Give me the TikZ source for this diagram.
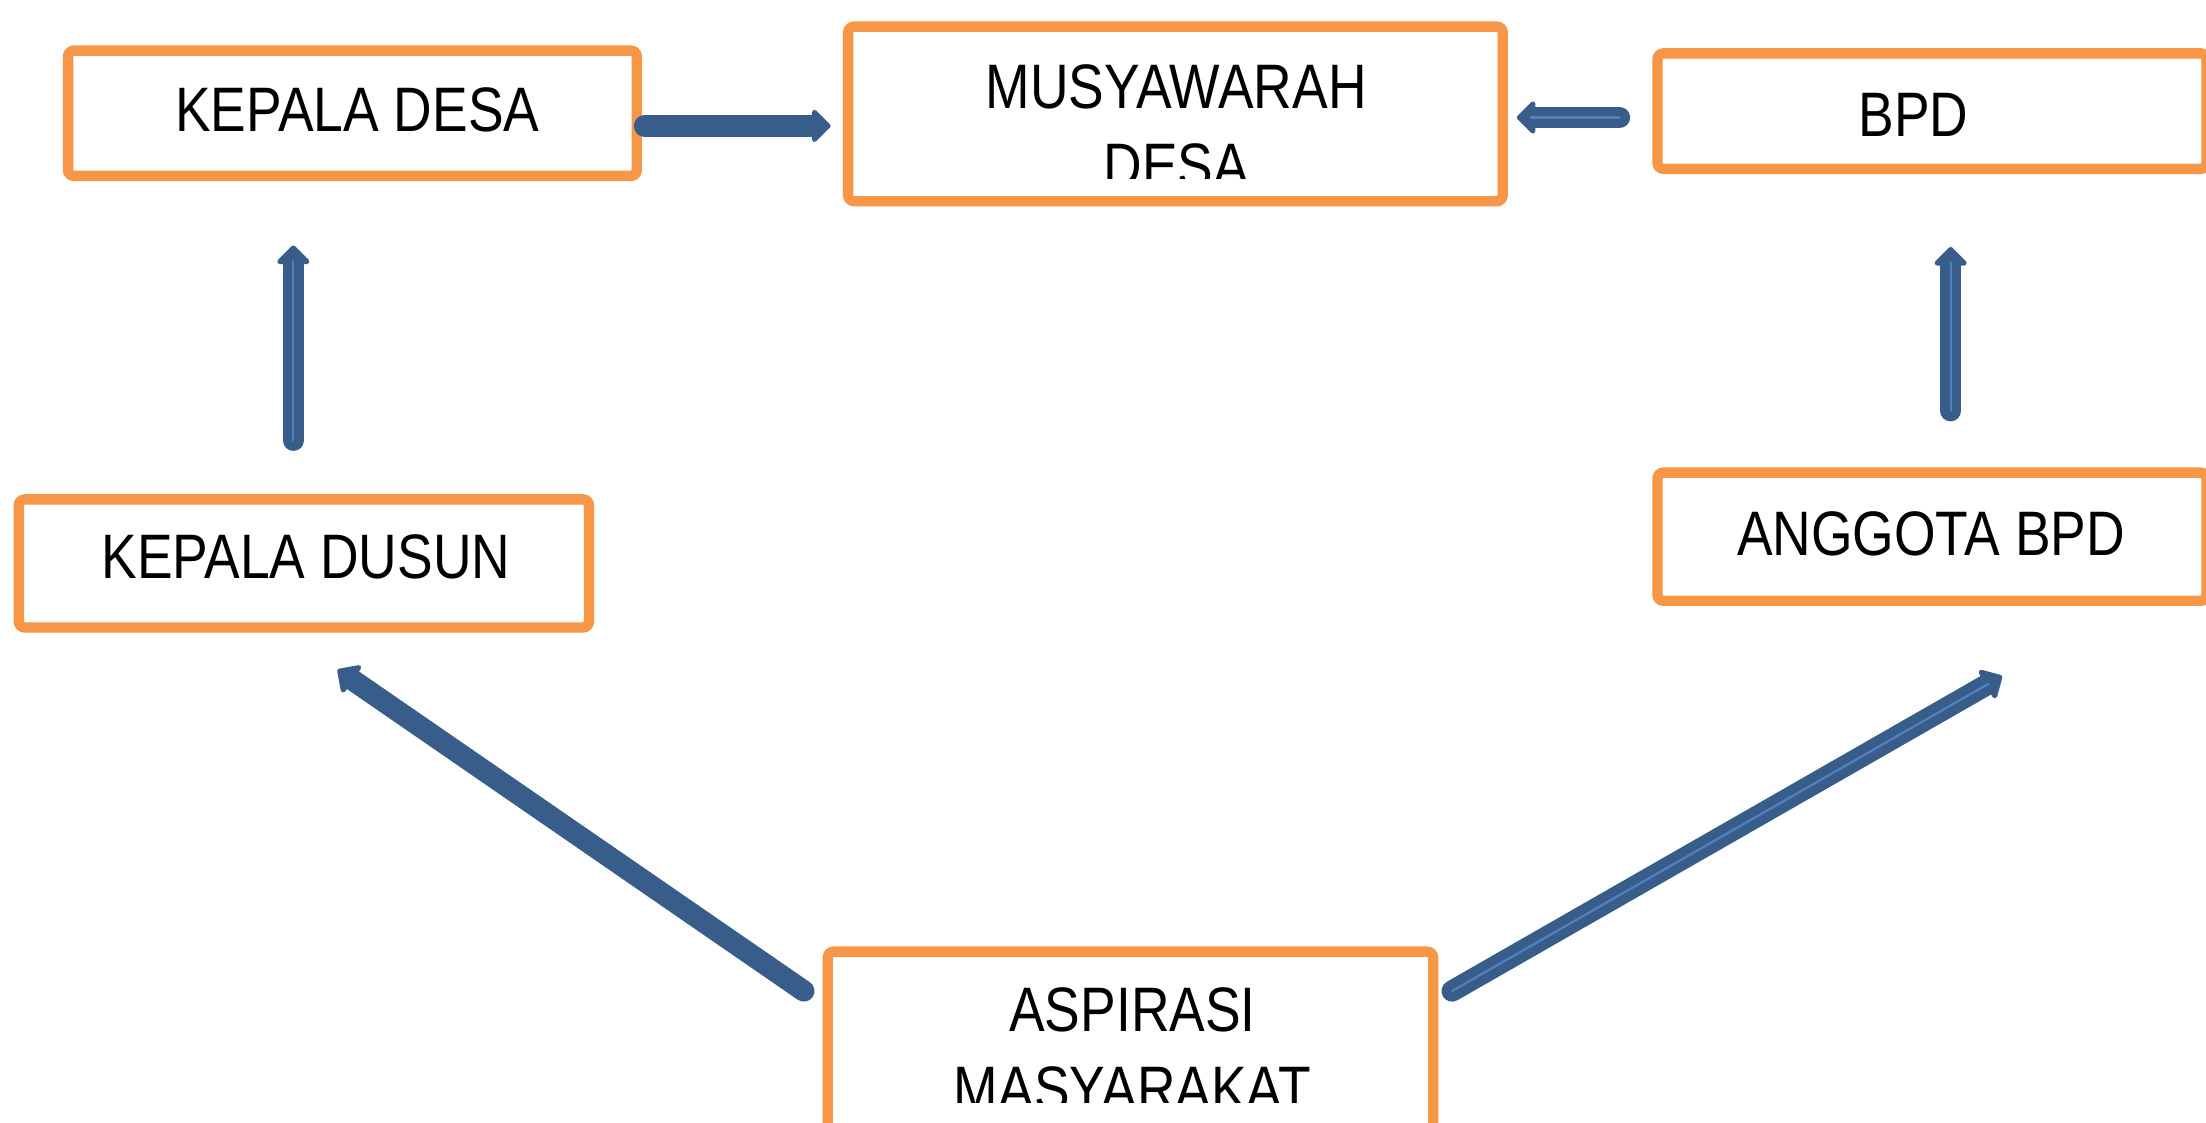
\documentclass[tikz,border=0pt]{standalone}
\usepackage{fontspec}
\setmainfont[FakeStretch=0.85]{Liberation Sans}
\usetikzlibrary{arrows.meta,calc}
\definecolor{boxorange}{HTML}{F79646}
\definecolor{arrdark}{HTML}{385D8A}
\definecolor{arrlight}{HTML}{4F81BD}
\begin{document}
\begin{tikzpicture}[x=0.01cm,y=-0.01cm,
  box/.style={draw=boxorange, line width=2.1pt, rounded corners=1.2pt, inner sep=0pt, outer sep=0pt, rectangle, fill=white},
  lbl/.style={font=\fontsize{12.7}{15.9}\selectfont, text=black, inner sep=0pt, outer sep=0pt, align=center, anchor=north},
  arr/.style={draw=arrdark, line width=4.3pt, line cap=round, -{Triangle[round,length=0.14cm,width=0.27cm]}},
  inl/.style={draw=arrlight, line width=0.45pt, line cap=round}]
\clip (0,0) rectangle (1568,798);
\fill[white] (0,0) rectangle (1568,798);

% boxes
\node[box, minimum width=4.04cm, minimum height=0.89cm] (kdesa) at (250.5,80.5) {};
\node[box, minimum width=4.65cm, minimum height=1.24cm] (musy) at (835.5,81) {};
\node[box, minimum width=3.90cm, minimum height=0.82cm] (bpd) at (1373.25,79) {};
\node[box, minimum width=3.90cm, minimum height=0.91cm] (anggota) at (1373.25,381.5) {};
\node[box, minimum width=4.05cm, minimum height=0.91cm] (kdus) at (216,400.5) {};
\node[box, minimum width=4.30cm, minimum height=2.435cm] (asp) at (803.5,798.25) {};

% labels
\node[lbl] (tkdesa) at (254,62) {KEPALA DESA};
\begin{scope}
  \clip ($(musy.north west)+(5,5)$) rectangle ($(musy.east)+(-5,46)$);
  \node[lbl] (tmusy) at (836,46) {MUSYAWARAH\\DESA};
\end{scope}
\node[lbl] (tbpd) at (1360,66) {BPD};
\node[lbl] (tkdus) at (217.5,380) {KEPALA DUSUN};
\node[lbl] (tanggota) at (1372.5,364) {ANGGOTA BPD};
\begin{scope}
  \clip ($(asp.north west)+(5,5)$) rectangle ($(asp.north east)+(-5,107.5)$);
  \node[lbl] (tasp) at (805,702) {ASPIRASI\\MASYARAKAT};
\end{scope}

% connector end points
\coordinate (a1s) at ($(kdesa.east)+(5.5,9)$);
\coordinate (a1e) at ($(musy.west)+(-12.5,8.5)$);
\coordinate (a2s) at ($(bpd.west)+(-27,4.5)$);
\coordinate (a2e) at ($(musy.east)+(10,2.5)$);
\coordinate (a3s) at ($(kdus.north)+(-7.5,-42)$);
\coordinate (a3e) at ($(kdesa.south)+(-42,49.5)$);
\coordinate (a4s) at ($(anggota.north)+(13.25,-44)$);
\coordinate (a4e) at ($(bpd.south)+(13.25,55.5)$);
\coordinate (a5s) at ($(asp.north west)+(-17,28)$);
\coordinate (a5e) at ($(kdus.south)+(24,30)$);
\coordinate (a6s) at ($(asp.north east)+(13.5,28)$);
\coordinate (a6e) at ($(anggota.south)+(49.75,53.5)$);

% connectors
\draw[arr] (a1s) -- (a1e);
\draw[arr] (a2s) -- (a2e);
\draw[inl] (a2s) -- ($(a2e)!0.1cm!(a2s)$);
\draw[arr] (a3s) -- (a3e);
\draw[inl] (a3s) -- ($(a3e)!0.11cm!(a3s)$);
\draw[arr] (a4s) -- (a4e);
\draw[inl] (a4s) -- ($(a4e)!0.11cm!(a4s)$);
\draw[arr] (a5s) -- (a5e);
\draw[arr] (a6s) -- (a6e);
\draw[inl] (a6s) -- ($(a6e)!0.11cm!(a6s)$);
\end{tikzpicture}
\end{document}
